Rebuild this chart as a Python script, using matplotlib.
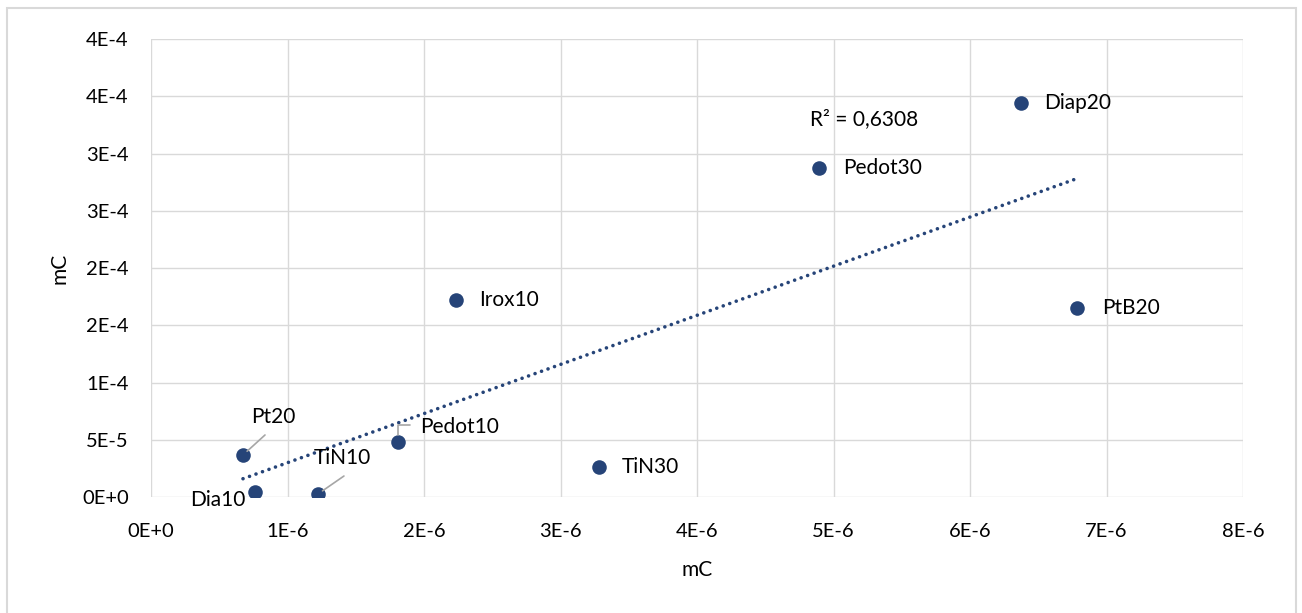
import matplotlib
matplotlib.use("Agg")
import matplotlib.pyplot as plt
import numpy as np
from matplotlib.patches import Rectangle

plt.rcParams['font.family'] = ['Lato', 'DejaVu Sans']

# data
names = ["Pt20", "Dia10", "TiN10", "Pedot10", "Irox10", "TiN30", "Pedot30", "Diap20", "PtB20"]
x_vals = [0.674e-6, 0.762e-6, 1.223e-6, 1.81e-6, 2.234e-6, 3.28e-6, 4.894e-6, 6.374e-6, 6.784e-6]
y_vals = [3.67e-5, 4.4e-6, 2.6e-6, 4.8e-5, 1.72e-4, 2.62e-5, 2.873e-4, 3.441e-4, 1.651e-4]

x_ticks = [0, 1e-6, 2e-6, 3e-6, 4e-6, 5e-6, 6e-6, 7e-6, 8e-6]
x_tick_labels = ["0E+0", "1E-6", "2E-6", "3E-6", "4E-6", "5E-6", "6E-6", "7E-6", "8E-6"]
y_ticks = [0, 5e-5, 1e-4, 1.5e-4, 2e-4, 2.5e-4, 3e-4, 3.5e-4, 4e-4]
y_tick_labels = ["0E+0", "5E-5", "1E-4", "2E-4", "2E-4", "3E-4", "3E-4", "4E-4", "4E-4"]

r2_text = "R² = 0,6308"

# label offsets in pixels (dx, dy), alignment, leader line end
label_pos = {
    "Pt20": ((30, 38), "center", (22, 20)),
    "Dia10": ((-37, -8), "center", None),
    "TiN10": ((24, 36), "center", (26, 18)),
    "Pedot10": ((22, 15), "left", "elbow"),
    "Irox10": ((23, 0), "left", None),
    "TiN30": ((23, 0), "left", None),
    "Pedot30": ((24, 0), "left", None),
    "Diap20": ((23, 0), "left", None),
    "PtB20": ((25, 0), "left", None),
}

color = "#264478"
grid_c = "#d9d9d9"

fig = plt.figure(figsize=(13.02, 6.13), dpi=100)
ax = fig.add_axes([151 / 1302, 116 / 613, 1092 / 1302, 458 / 613])

ax.scatter(x_vals, y_vals, s=110, color=color, zorder=3, linewidths=0)

# linear trendline
coef = np.polyfit(x_vals, y_vals, 1)
xs = np.array([min(x_vals), max(x_vals)])
ax.plot(xs, np.polyval(coef, xs), color=color, linewidth=2.6,
        linestyle=(0, (0.01, 1.9)), dash_capstyle="round", zorder=2)

for name, xv, yv in zip(names, x_vals, y_vals):
    (dx, dy), ha, leader = label_pos[name]
    ax.annotate(name, (xv, yv), xytext=(dx, dy), textcoords="offset pixels",
                ha=ha, va="center", fontsize=15, color="#000000")
    if leader == "elbow":
        ax.annotate("", (xv, yv), xytext=(12, 17), textcoords="offset pixels",
                    arrowprops=dict(arrowstyle="-", color="#a6a6a6", lw=1.2,
                                    shrinkA=0, shrinkB=5,
                                    connectionstyle="angle,angleA=180,angleB=90,rad=0"))
    elif leader is not None:
        ax.annotate("", (xv, yv), xytext=leader, textcoords="offset pixels",
                    arrowprops=dict(arrowstyle="-", color="#a6a6a6", lw=1.2,
                                    shrinkA=0, shrinkB=4))

ax.text(810 / 1302, 1 - 119 / 613, r2_text, transform=fig.transFigure,
        ha="left", va="center", fontsize=15)

ax.set_xlim(0, 8e-6)
ax.set_ylim(0, 4e-4)
ax.set_xticks(x_ticks)
ax.set_xticklabels(x_tick_labels)
ax.set_yticks(y_ticks)
ax.set_yticklabels(y_tick_labels)
ax.tick_params(length=0, labelsize=14.5, colors="#000000")
ax.tick_params(axis="x", pad=19)
ax.tick_params(axis="y", pad=16)
ax.grid(True, color=grid_c, linewidth=1.0)
ax.set_axisbelow(True)
for sp in ax.spines.values():
    sp.set_visible(False)

ax.set_xlabel("mC", fontsize=15, labelpad=14)
ax.set_ylabel("mC", fontsize=15, labelpad=9)

fig.patches.append(Rectangle((6.5 / 1302, -0.02), 1289.5 / 1302, 1.02 - 8 / 613,
                             transform=fig.transFigure, fill=False,
                             edgecolor=grid_c, linewidth=1.5))

fig.savefig("out.png", dpi=100)
